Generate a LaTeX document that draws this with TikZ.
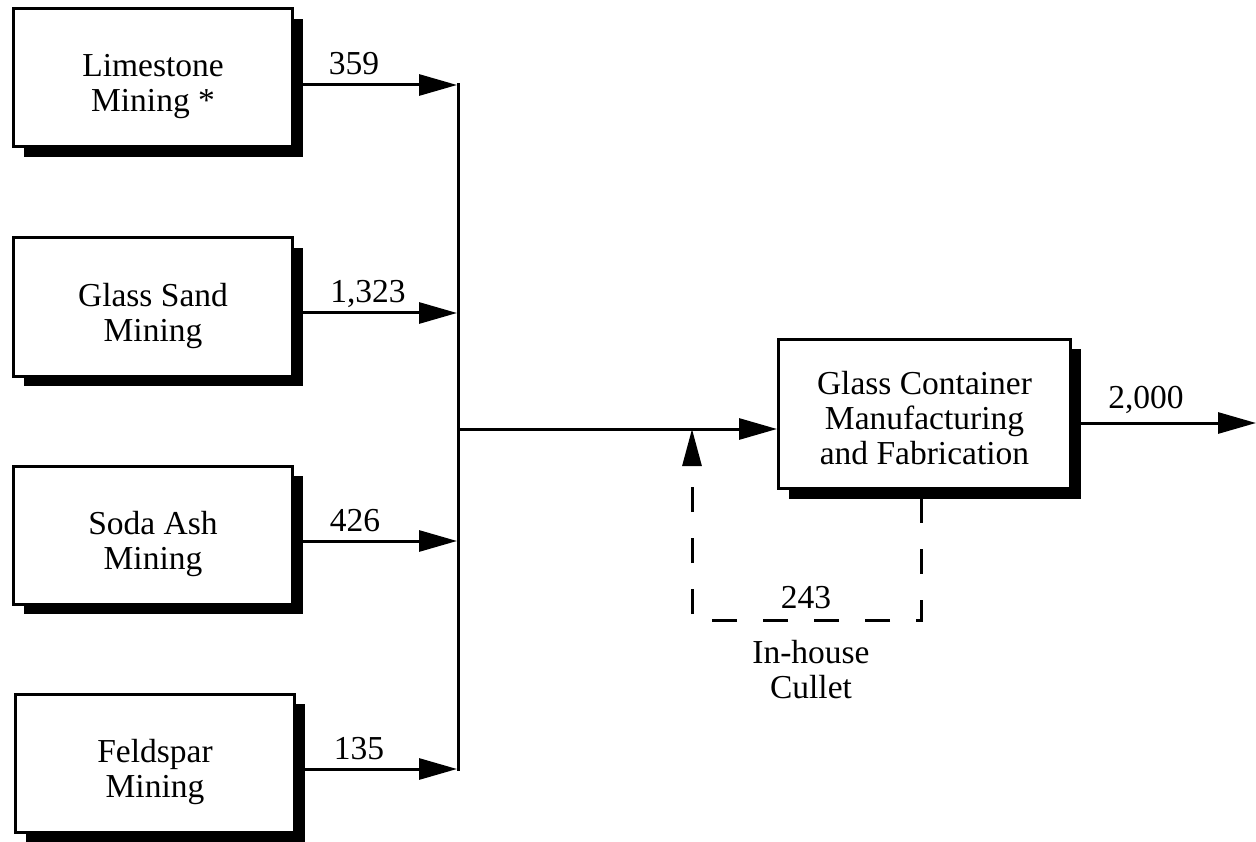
\documentclass[tikz,border=0pt]{standalone}
\usepackage{fontspec}
\setmainfont{Liberation Serif}
\usetikzlibrary{arrows.meta,shadows}
\begin{document}
\begin{tikzpicture}[x=1pt,y=-1pt,
  box/.style={draw,line width=3pt,fill=white,minimum width=279pt,minimum height=138pt,
    inner sep=0pt,
    drop shadow={shadow xshift=10pt,shadow yshift=-10pt,fill=black,opacity=1}},
  txt/.style={align=center,inner sep=0pt,font=\fontsize{33.5}{35}\selectfont},
  flow/.style={line width=3pt,-{Triangle[length=38pt,width=21pt]}},
  lbl/.style={font=\fontsize{33.5}{35}\selectfont,inner sep=0pt,anchor=base},
  cullet/.style={line width=3pt,dash pattern=on 25pt off 26pt,-{Triangle[length=37pt,width=19pt]}}]
\useasboundingbox (0,0) rectangle (1256,842);

% source boxes
\node[box] (lime) at (153,78) {};
\node[box] (sand) at (153,307) {};
\node[box] (soda) at (153,535) {};
\node[box] (feld) at (155,763) {};
\node[txt] (limet) at ([yshift=-9pt]lime.center) {Limestone\\Mining *};
\node[txt] (sandt) at ([yshift=-9pt]sand.center) {Glass Sand\\Mining};
\node[txt] (sodat) at ([yshift=-9pt]soda.center) {Soda Ash\\Mining};
\node[txt] (feldt) at ([yshift=-9pt]feld.center) {Feldspar\\Mining};
% main box
\node[box,minimum width=292pt,minimum height=149pt] (glass) at (924.5,414) {};
\node[txt] (glasst) at ([yshift=-4pt]glass.center) {Glass Container\\Manufacturing\\and Fabrication};

% junction points on the bus
\coordinate (j1) at (457,85);
\coordinate (j2) at (457,313);
\coordinate (j3) at (457,541);
\coordinate (j4) at (457,769);
\coordinate (bt) at (458,83.5);
\coordinate (bb) at (458,770.5);
\coordinate (bm) at (458,429);
\coordinate (out) at (1256,423);

\draw[line width=3pt] (bt) -- (bb);
\draw[flow] (lime.east |- j1) -- (j1);
\draw[flow] (sand.east |- j2) -- (j2);
\draw[flow] (soda.east |- j3) -- (j3);
\draw[flow] (feld.east |- j4) -- (j4);
\draw[flow] (bm) -- (glass.west |- bm);
\draw[flow] (glass.east |- out) -- (out);

% in-house cullet loop
\coordinate (cs) at (921,498);
\coordinate (cr) at (921,620);
\coordinate (cl) at (692,620);
\draw[cullet] (cs) -- (cr) -- (cl) -- (bm -| cl);

% labels
\node[lbl] (l1) at (354,75) {359};
\node[lbl] (l2) at (368,303) {1,323};
\node[lbl] (l3) at (355,531) {426};
\node[lbl] (l4) at (359,759) {135};
\node[lbl] (l5) at (1146,408) {2,000};
\node[lbl] (l6) at (806,608) {243};
\node[txt] (l7) at (811,670) {In-house\\Cullet};
\end{tikzpicture}
\end{document}
